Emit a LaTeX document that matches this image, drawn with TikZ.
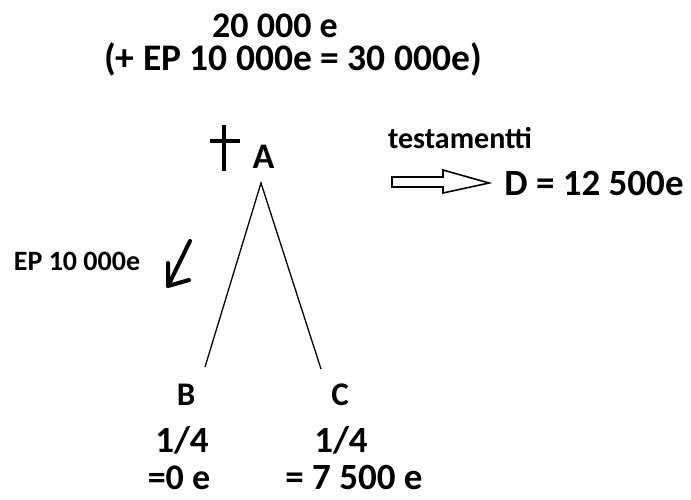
\documentclass[tikz,border=0pt]{standalone}
\usepackage{fontspec}
\setmainfont{Carlito}
\begin{document}
\begin{tikzpicture}[x=1pt,y=-1pt,
  lbl/.style={font=\bfseries\fontsize{#1}{#1}\selectfont, inner sep=0pt, anchor=base},
  lbl/.default=36,
  thin line/.style={line width=1.3pt},
  thick mark/.style={line width=4.8pt}]
\useasboundingbox[fill=white] (0,0) rectangle (691,499);
% top texts
\node[lbl=36] (total) at (275,37) {20 000 e};
\node[lbl=37.5] (total2) at (293,70) {(+ EP 10 000e = 30 000e)};
% A and cross
\node[lbl=36] (A) at (263.5,168) {A};
\draw[thick mark] (224,125) -- (224,171);
\draw[thick mark] (210,141) -- (240,141);
% testament
\node[lbl=30] (test) at (460,148) {testamentti};
\node[lbl=37] (D) at (594,195) {D = 12 500e};
\draw[line width=1.6pt] (392,177) -- (443,177) -- (443,170) -- (489,183) -- (443,193) -- (443,187) -- (392,187) -- cycle;
% EP
\node[lbl=28] (EP) at (77,270) {EP 10 000e};
\draw[line width=4pt, line cap=round, line join=round] (190,241) -- (168,286);
\draw[line width=4pt, line cap=round, line join=round] (168,263) -- (168,286) -- (189,280);
% tree
\coordinate (top) at (261,183);
\coordinate (bl) at (205,367);
\coordinate (br) at (321,369);
\draw[thin line] (bl) -- (top) -- (br);
% children
\node[lbl=33] (B) at (186,405) {B};
\node[lbl=37] (B1) at (182,452) {1/4};
\node[lbl=36] (B2) at (179,489) {=0 e};
\node[lbl=33] (C) at (340,405) {C};
\node[lbl=37] (C1) at (341,452) {1/4};
\node[lbl=37] (C2) at (354,489) {= 7 500 e};
\end{tikzpicture}
\end{document}
